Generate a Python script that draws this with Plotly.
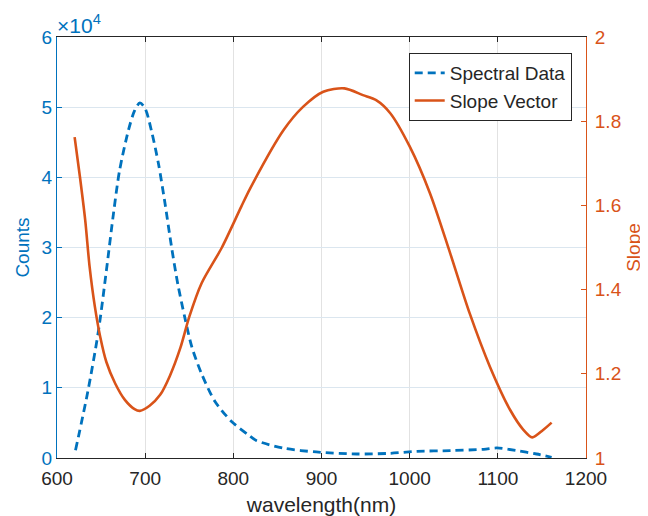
import plotly.graph_objects as go

# ---- data ----
spec_wl = [621, 635, 647, 656, 664, 671, 681, 688, 694, 700, 707, 715, 722, 730, 737,
           745, 753, 764, 779, 798, 817, 826, 857, 894, 940, 978, 1008, 1046, 1084,
           1099, 1121, 1144, 1161]
spec_counts = [1100, 9500, 18100, 26700, 34800, 41000, 46700, 49500, 50600, 49800, 46700,
               42000, 36700, 30000, 24800, 20000, 15800, 12000, 8100, 5200, 3300, 2500,
               1400, 860, 570, 670, 950, 1050, 1240, 1430, 1050, 570, 100]

slope_wl = [620, 626, 632, 637, 643, 649, 656, 666, 677, 688, 694, 705, 717, 728, 740,
            750, 764, 787, 809, 819, 857, 879, 902, 926, 947, 962, 978, 1000, 1023,
            1046, 1068, 1091, 1114, 1129, 1139, 1151, 1161]
slope_vals = [1.762, 1.668, 1.565, 1.454, 1.359, 1.288, 1.228, 1.177, 1.138, 1.116, 1.112,
              1.124, 1.150, 1.195, 1.262, 1.335, 1.415, 1.50, 1.597, 1.640, 1.779, 1.834,
              1.870, 1.878, 1.862, 1.850, 1.819, 1.740, 1.629, 1.486, 1.344, 1.217, 1.114,
              1.067, 1.049, 1.066, 1.084]

count_ticks = [0, 10000, 20000, 30000, 40000, 50000, 60000]
count_ticktext = ["0", "1", "2", "3", "4", "5", "6"]

BLUE = "#0072BD"
ORANGE = "#D95319"
DARK = "#262626"
FONT = "Liberation Sans, Arial, sans-serif"

fig = go.Figure()
fig.add_trace(go.Scatter(
    x=spec_wl, y=spec_counts, mode="lines", name="Spectral Data",
    line=dict(color=BLUE, width=2.8, dash="8px,5px", shape="spline", smoothing=0.8),
    yaxis="y"))
fig.add_trace(go.Scatter(
    x=slope_wl, y=slope_vals, mode="lines", name="Slope Vector",
    line=dict(color=ORANGE, width=2.6, shape="spline", smoothing=0.8),
    yaxis="y2"))

# the page body has an 8px margin, so all margins are shifted by 8px
fig.update_layout(
    template="none",
    width=648, height=516,
    margin=dict(l=49, r=70, t=29, b=66),
    paper_bgcolor="white", plot_bgcolor="white",
    font=dict(family=FONT, size=19, color=DARK),
    showlegend=True,
    legend=dict(x=0.973, y=0.962, xanchor="right", yanchor="top",
                bgcolor="white", bordercolor=DARK, borderwidth=1,
                font=dict(size=19, color=DARK), tracegroupgap=0,
                itemwidth=30),
    xaxis=dict(range=[600, 1200], dtick=100, tick0=600,
               showline=True, linecolor=DARK, linewidth=1, mirror="ticks",
               ticks="inside", ticklen=5, tickcolor=DARK,
               showgrid=True, gridcolor="#e2e2e2", gridwidth=1, zeroline=False,
               tickfont=dict(size=19, color=DARK), ticklabelstandoff=3,
               title=dict(text="wavelength(nm)", font=dict(size=21, color=DARK), standoff=9)),
    yaxis=dict(range=[0, 60000], tickvals=count_ticks, ticktext=count_ticktext,
               showline=True, linecolor=BLUE, linewidth=1,
               ticks="inside", ticklen=5, tickcolor=BLUE,
               showgrid=True, gridcolor="#dbe6ef", gridwidth=1, zeroline=False,
               tickfont=dict(size=19, color=BLUE),
               title=dict(text="Counts", font=dict(size=19, color=BLUE), standoff=6)),
    yaxis2=dict(range=[1, 2], dtick=0.2, tick0=1, overlaying="y", side="right",
                showline=True, linecolor=ORANGE, linewidth=1,
                ticks="inside", ticklen=5, tickcolor=ORANGE,
                showgrid=False, zeroline=False,
                tickfont=dict(size=19, color=ORANGE), ticklabelstandoff=4,
                title=dict(text="Slope", font=dict(size=19, color=ORANGE), standoff=6)),
    annotations=[dict(text="×10<sup>4</sup>", xref="paper", yref="paper",
                      x=0, y=1, xanchor="left", yanchor="bottom", showarrow=False,
                      font=dict(size=21, color=BLUE, family=FONT), xshift=-2, yshift=-2)],
)

fig.write_html("out.html")
